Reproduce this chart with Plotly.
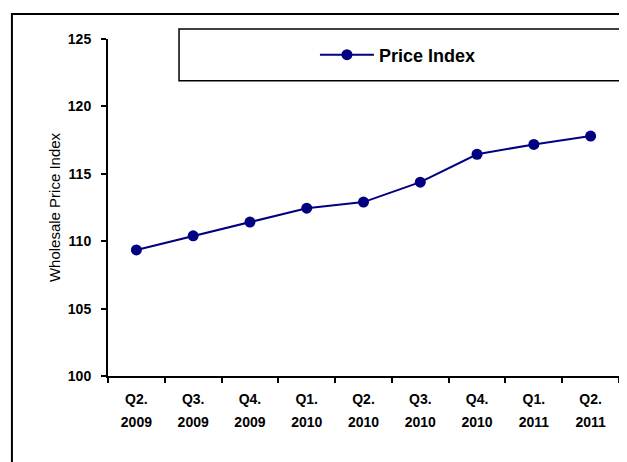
import plotly.graph_objects as go

quarters = ["Q2.", "Q3.", "Q4.", "Q1.", "Q2.", "Q3.", "Q4.", "Q1.", "Q2."]
years = ["2009", "2009", "2009", "2010", "2010", "2010", "2010", "2011", "2011"]
categories = [f"{q} {y}" for q, y in zip(quarters, years)]
price_index = [109.35, 110.4, 111.42, 112.45, 112.9, 114.38, 116.45, 117.18, 117.8]
y_ticks = [100, 105, 110, 115, 120, 125]

FONT = "Liberation Sans, Arial, sans-serif"
NAVY = "#000080"

fig = go.Figure()
fig.add_trace(go.Scatter(
    x=categories, y=price_index, mode="lines+markers", name="Price Index",
    line=dict(color=NAVY, width=2),
    marker=dict(color=NAVY, size=11, symbol="circle"),
))
# invisible trace carrying the year row of tick labels
fig.add_trace(go.Scatter(
    x=list(range(len(years))), y=price_index, xaxis="x2", mode="markers",
    marker=dict(opacity=0), showlegend=False, hoverinfo="skip",
))

fig.update_layout(
    width=619, height=454,
    paper_bgcolor="white", plot_bgcolor="white",
    margin=dict(l=100, r=8, t=31, b=86, autoexpand=False),
    font=dict(family=FONT, color="black"),
    showlegend=True,
    legend=dict(
        x=0.405, y=0.9525, xanchor="left", yanchor="middle",
        bgcolor="rgba(0,0,0,0)", borderwidth=0,
        font=dict(family=FONT, size=18, weight="bold", color="black"),
        itemwidth=54,
    ),
    xaxis=dict(
        type="category", categoryorder="array", categoryarray=categories,
        tickmode="array", tickvals=categories, ticktext=quarters,
        range=[-0.5, len(categories) - 0.5],
        tickson="boundaries", ticks="outside", ticklen=5, tickwidth=2, tickcolor="black",
        showline=True, linecolor="black", linewidth=2, showgrid=False, zeroline=False,
        tickfont=dict(family=FONT, size=14, weight="bold"),
        ticklabelstandoff=9,
    ),
    xaxis2=dict(
        overlaying="x", anchor="y", side="bottom",
        range=[-0.5, len(years) - 0.5],
        tickmode="array", tickvals=list(range(len(years))), ticktext=years,
        ticks="", showline=False, showgrid=False, zeroline=False,
        tickfont=dict(family=FONT, size=14, weight="bold"),
        ticklabelstandoff=36,
    ),
    yaxis=dict(
        range=[100, 125], tickmode="array", tickvals=y_ticks,
        ticks="outside", ticklen=5, tickwidth=2, tickcolor="black",
        showline=True, linecolor="black", linewidth=2, showgrid=False, zeroline=False,
        tickfont=dict(family=FONT, size=14, weight="bold"),
        ticklabelstandoff=7,
        title=dict(text="Wholesale Price Index", font=dict(family=FONT, size=15), standoff=4),
    ),
    shapes=[
        # outer chart frame
        dict(type="rect", xref="paper", yref="paper", x0=-0.188, x1=1.2, y0=-0.5, y1=1.074,
             line=dict(color="black", width=2), fillcolor="rgba(0,0,0,0)", layer="below"),
        # legend box
        dict(type="rect", xref="paper", yref="paper", x0=0.139, x1=1.011, y0=0.876, y1=1.03,
             line=dict(color="black", width=1.5), fillcolor="white", layer="below"),
    ],
)

fig.write_html("out.html")
